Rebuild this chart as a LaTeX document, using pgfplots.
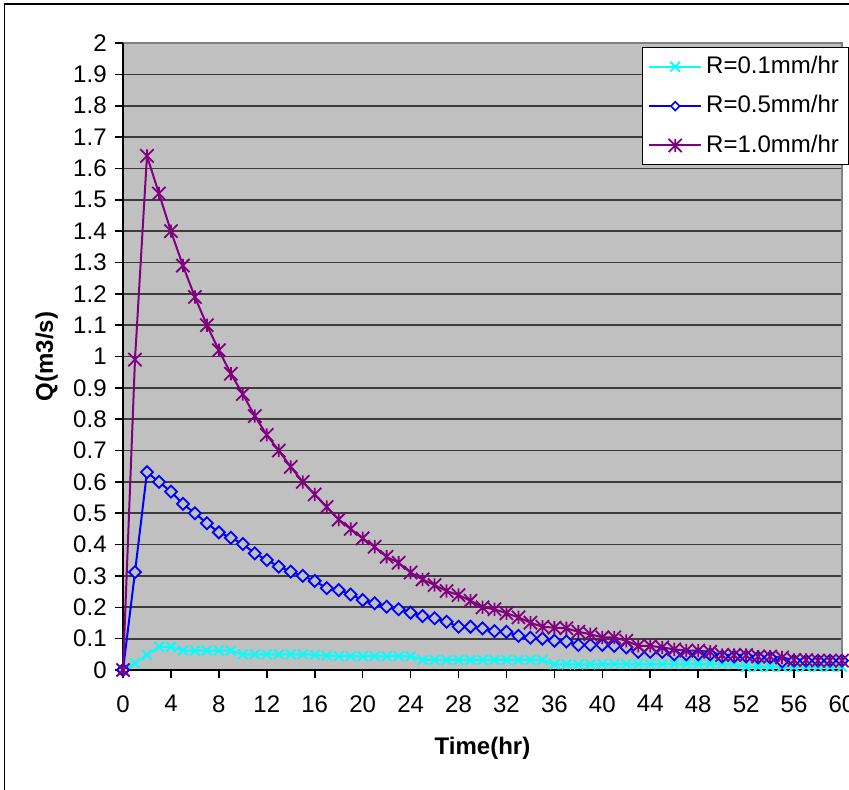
\documentclass[border=0pt]{standalone}
\usepackage{fontspec}
\setmainfont{Liberation Sans}
\usepackage{pgfplots}
\pgfplotsset{compat=1.18}
\definecolor{plotbg}{RGB}{192,192,192}
\definecolor{cyanR}{RGB}{0,255,255}
\definecolor{blueR}{RGB}{0,0,255}
\definecolor{purpR}{RGB}{128,0,128}
\definecolor{gridc}{RGB}{60,60,60}
\pgfdeclareplotmark{xstar}{%
  \pgfpathmoveto{\pgfqpoint{-\pgfplotmarksize}{-\pgfplotmarksize}}%
  \pgfpathlineto{\pgfqpoint{\pgfplotmarksize}{\pgfplotmarksize}}%
  \pgfpathmoveto{\pgfqpoint{-\pgfplotmarksize}{\pgfplotmarksize}}%
  \pgfpathlineto{\pgfqpoint{\pgfplotmarksize}{-\pgfplotmarksize}}%
  \pgfpathmoveto{\pgfqpoint{0pt}{-\pgfplotmarksize}}%
  \pgfpathlineto{\pgfqpoint{0pt}{\pgfplotmarksize}}%
  \pgfusepathqstroke}
\pgfdeclareplotmark{sqdiamond}{%
  \pgfpathmoveto{\pgfqpoint{0pt}{\pgfplotmarksize}}%
  \pgfpathlineto{\pgfqpoint{\pgfplotmarksize}{0pt}}%
  \pgfpathlineto{\pgfqpoint{0pt}{-\pgfplotmarksize}}%
  \pgfpathlineto{\pgfqpoint{-\pgfplotmarksize}{0pt}}%
  \pgfpathclose
  \pgfusepathqfillstroke}
\newcommand{\fs}{\fontsize{12}{14.4}\selectfont}
\begin{document}
\fs
\begin{tikzpicture}[x=1pt,y=1pt]
\useasboundingbox (0,0) rectangle (424.5,394.5);
\clip (0,0) rectangle (424.5,394.5);
\fill[white] (0,0) rectangle (424.5,394.5);
\draw[black, line width=0.9pt] (2.2,-20) -- (2.2,392.3) -- (450,392.3);
\begin{axis}[
  at={(61.5pt,59.5pt)}, anchor=south west,
  scale only axis, width=359.5pt, height=313.5pt,
  xmin=0, xmax=60, ymin=0, ymax=2,
  xtick={0,4,...,60},
  ytick={0,0.1,0.2,0.3,0.4,0.5,0.6,0.7,0.8,0.9,1,1.1,1.2,1.3,1.4,1.5,1.6,1.7,1.8,1.9,2},
  yticklabels={0,0.1,0.2,0.3,0.4,0.5,0.6,0.7,0.8,0.9,1,1.1,1.2,1.3,1.4,1.5,1.6,1.7,1.8,1.9,2},
  xtick pos=bottom, ytick pos=left,
  axis background/.style={fill=plotbg},
  ymajorgrids, grid style={gridc, line width=0.85pt},
  axis line style={draw=none},
  tick align=outside, major tick length=4pt,
  tick style={black, line width=0.8pt},
  tick label style={font=\fs},
  xticklabel style={yshift=-4.5pt},
  /pgf/number format/assume math mode=true,
  xlabel={Time(hr)}, ylabel={Q(m3/s)},
  xlabel style={at={(axis description cs:0.5,-0.1244)}, anchor=center, font=\bfseries\fs},
  ylabel style={at={(axis description cs:-0.1061,0.5)}, anchor=center, font=\bfseries\fs},
  clip=false,
  legend style={at={(axis description cs:0.7214,0.9941)}, anchor=north west,
    draw=black, line width=0.5pt, fill=white, font=\fs, row sep=5.2pt,
    inner ysep=2.5pt, cells={anchor=west}},
  legend image code/.code={\draw[mark repeat=2,mark phase=2] plot coordinates {(0pt,0pt)(13pt,0pt)(26pt,0pt)};},
]
\draw[gray, line width=0.9pt] (rel axis cs:0,1) -- (rel axis cs:1,1) -- (rel axis cs:1,0);
\draw[black, line width=0.9pt] (rel axis cs:0,1) -- (rel axis cs:0,0) -- (rel axis cs:1,0);
\addplot[cyanR, line width=1pt, mark=x, mark size=3.4pt, mark options={line width=0.9pt}] coordinates {
(0,0) (1,0.021) (2,0.048) (3,0.074) (4,0.074) (5,0.062) (6,0.062) (7,0.062) (8,0.062) (9,0.062)
(10,0.05) (11,0.05) (12,0.05) (13,0.05) (14,0.05) (15,0.05) (16,0.048) (17,0.046) (18,0.044) (19,0.044)
(20,0.044) (21,0.044) (22,0.044) (23,0.044) (24,0.044) (25,0.032) (26,0.032) (27,0.032) (28,0.032) (29,0.032)
(30,0.032) (31,0.032) (32,0.032) (33,0.032) (34,0.032) (35,0.032) (36,0.018) (37,0.018) (38,0.018) (39,0.018)
(40,0.019) (41,0.019) (42,0.019) (43,0.019) (44,0.019) (45,0.019) (46,0.019) (47,0.019) (48,0.019) (49,0.019)
(50,0.019) (51,0.019) (52,0.01) (53,0.01) (54,0.01) (55,0.01) (56,0.01) (57,0.01) (58,0.01) (59,0.01) (60,0.01)};
\addlegendentry{R=0.1mm/hr}
\addplot[blueR, line width=1pt, mark=sqdiamond, mark size=3pt, mark options={line width=0.9pt, fill=plotbg},
  legend image post style={mark options={fill=white, line width=0.8pt}, mark size=2.2pt}] coordinates {
(0,0) (1,0.312) (2,0.631) (3,0.60) (4,0.569) (5,0.53) (6,0.50) (7,0.468) (8,0.439) (9,0.422)
(10,0.402) (11,0.372) (12,0.351) (13,0.33) (14,0.314) (15,0.30) (16,0.284) (17,0.261) (18,0.255) (19,0.241)
(20,0.223) (21,0.213) (22,0.202) (23,0.194) (24,0.183) (25,0.172) (26,0.165) (27,0.154) (28,0.138) (29,0.138)
(30,0.133) (31,0.124) (32,0.122) (33,0.109) (34,0.103) (35,0.10) (36,0.093) (37,0.091) (38,0.08) (39,0.08)
(40,0.08) (41,0.077) (42,0.072) (43,0.058) (44,0.058) (45,0.058) (46,0.05) (47,0.05) (48,0.05) (49,0.05)
(50,0.043) (51,0.043) (52,0.043) (53,0.04) (54,0.04) (55,0.027) (56,0.03) (57,0.03) (58,0.03) (59,0.03) (60,0.03)};
\addlegendentry{R=0.5mm/hr}
\addplot[purpR, line width=1pt, mark=xstar, mark size=3.3pt, mark options={line width=0.9pt}] coordinates {
(0,0) (1,0.99) (2,1.64) (3,1.52) (4,1.40) (5,1.29) (6,1.19) (7,1.10) (8,1.02) (9,0.945)
(10,0.88) (11,0.81) (12,0.75) (13,0.70) (14,0.648) (15,0.60) (16,0.56) (17,0.52) (18,0.48) (19,0.45)
(20,0.42) (21,0.393) (22,0.361) (23,0.342) (24,0.311) (25,0.289) (26,0.271) (27,0.252) (28,0.239) (29,0.221)
(30,0.20) (31,0.194) (32,0.181) (33,0.168) (34,0.151) (35,0.138) (36,0.135) (37,0.133) (38,0.122) (39,0.114)
(40,0.104) (41,0.104) (42,0.093) (43,0.077) (44,0.077) (45,0.072) (46,0.066) (47,0.062) (48,0.062) (49,0.058)
(50,0.048) (51,0.048) (52,0.048) (53,0.043) (54,0.043) (55,0.04) (56,0.032) (57,0.032) (58,0.03) (59,0.03) (60,0.03)};
\addlegendentry{R=1.0mm/hr}
\end{axis}
\end{tikzpicture}
\end{document}
